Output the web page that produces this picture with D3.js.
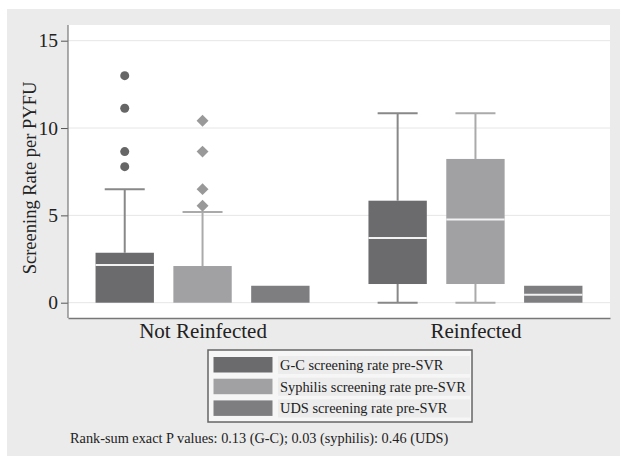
<!DOCTYPE html>
<html>
<head>
<meta charset="utf-8">
<script src="https://cdn.jsdelivr.net/npm/d3@7"></script>
<style>
  body { margin: 0; background: #fff; }
  svg text { font-family: 'Liberation Serif', 'DejaVu Serif', serif; fill: #222; }
</style>
</head>
<body>
<div id="chart"></div>
<script>
// groups and series
const groups = ["Not Reinfected", "Reinfected"];
const series = ["G-C", "Syphilis", "UDS"];
const seriesLabels = ["G-C screening rate pre-SVR", "Syphilis screening rate pre-SVR", "UDS screening rate pre-SVR"];
const seriesColors = ["#6b6b6e", "#a1a1a4", "#7e7e81"];
const yTicks = [0, 5, 10, 15];

// box stats per series, one entry per group: [whiskerLow, q1, median, q3, whiskerHigh]
const gcStats = [[0, 0, 2.16, 2.86, 6.5], [0, 1.07, 3.7, 5.84, 10.84]];
const syphStats = [[0, 0, 2.1, 2.1, 5.19], [0, 1.07, 4.77, 8.23, 10.84]];
const udsStats = [[0, 0, 0.97, 0.97, 0.97], [0, 0, 0.46, 0.97, 0.97]];

// outliers (Not Reinfected only)
const gcOutliers = [13.0, 11.13, 8.65, 7.79];
const syphOutliers = [10.42, 8.65, 6.5, 5.55];

const footnote = "Rank-sum exact P values: 0.13 (G-C); 0.03 (syphilis): 0.46 (UDS)";

const W = 620, H = 456;
const svg = d3.select("#chart").append("svg").attr("width", W).attr("height", H);

// outer gray panel
svg.append("rect").attr("x", 7).attr("y", 9).attr("width", W - 7).attr("height", H - 9).attr("fill", "#ebebeb");

const plot = { left: 68, right: 610, top: 25, bottom: 318 };
svg.append("rect").attr("x", plot.left).attr("y", plot.top)
  .attr("width", plot.right - plot.left).attr("height", plot.bottom - plot.top).attr("fill", "#fff");

const y = d3.scaleLinear().domain([0, 15]).range([302.7, 40.7]);
const xGroup = d3.scalePoint().domain(groups).range([plot.left, plot.right]).padding(0.493);
const xInner = d3.scaleBand().domain(series).range([-107, 107]).paddingInner(0.25);

// grid
svg.append("g").selectAll("line").data(yTicks).join("line")
  .attr("x1", plot.left).attr("x2", plot.right)
  .attr("y1", d => y(d)).attr("y2", d => y(d))
  .attr("stroke", "#e6e6e6").attr("stroke-width", 1);

// y axis
const yAxis = svg.append("g").attr("transform", `translate(${plot.left},0)`)
  .call(d3.axisLeft(y).tickValues(yTicks).tickSize(7).tickPadding(3));
yAxis.select(".domain").remove();
yAxis.selectAll(".tick line").attr("stroke", "#555");
yAxis.selectAll(".tick text").attr("font-size", 19.5).attr("fill", "#222");
svg.append("line").attr("x1", plot.left).attr("x2", plot.left).attr("y1", plot.top).attr("y2", plot.bottom)
  .attr("stroke", "#777").attr("stroke-width", 1.2);

// x axis
const xAxis = svg.append("g").attr("transform", `translate(0,${plot.bottom})`)
  .call(d3.axisBottom(xGroup).tickSize(0).tickPadding(5));
xAxis.select(".domain").attr("stroke", "#777").attr("stroke-width", 1.5);
xAxis.selectAll(".tick text").attr("font-size", 21).attr("fill", "#222");

svg.append("text").attr("transform", "translate(35.5,178) rotate(-90)")
  .attr("text-anchor", "middle").attr("font-size", 18.5).text("Screening Rate per PYFU");

// boxes
const allStats = [gcStats, syphStats, udsStats];
const boxes = [];
series.forEach((s, si) => groups.forEach((g, gi) => {
  const st = allStats[si][gi];
  boxes.push({ s, si, g, lo: st[0], q1: st[1], med: st[2], q3: st[3], hi: st[4] });
}));

const bw = xInner.bandwidth();
const bx = d => xGroup(d.g) + xInner(d.s);
const cx = d => bx(d) + bw / 2;
const wcol = d => d.si === 1 ? "#aaa" : "#888";

const bg = svg.append("g").selectAll("g").data(boxes).join("g");
// whiskers
bg.filter(d => d.hi > d.q3).append("line")
  .attr("x1", cx).attr("x2", cx).attr("y1", d => y(d.q3)).attr("y2", d => y(d.hi))
  .attr("stroke", wcol).attr("stroke-width", 2);
bg.filter(d => d.hi > d.q3).append("line")
  .attr("x1", d => cx(d) - 20).attr("x2", d => cx(d) + 20).attr("y1", d => y(d.hi)).attr("y2", d => y(d.hi))
  .attr("stroke", wcol).attr("stroke-width", 2);
bg.filter(d => d.lo < d.q1).append("line")
  .attr("x1", cx).attr("x2", cx).attr("y1", d => y(d.q1)).attr("y2", d => y(d.lo))
  .attr("stroke", wcol).attr("stroke-width", 2);
bg.filter(d => d.lo < d.q1).append("line")
  .attr("x1", d => cx(d) - 20).attr("x2", d => cx(d) + 20).attr("y1", d => y(d.lo)).attr("y2", d => y(d.lo))
  .attr("stroke", wcol).attr("stroke-width", 2);
// box body
bg.append("rect").attr("x", bx).attr("width", bw)
  .attr("y", d => y(d.q3)).attr("height", d => Math.max(1, y(d.q1) - y(d.q3)))
  .attr("fill", d => seriesColors[d.si]);
// median
bg.filter(d => d.med > d.q1 && d.med < d.q3).append("line")
  .attr("x1", bx).attr("x2", d => bx(d) + bw).attr("y1", d => y(d.med)).attr("y2", d => y(d.med))
  .attr("stroke", "#f2f2f2").attr("stroke-width", 2);

// outliers
const gcX = xGroup(groups[0]) + xInner(series[0]) + bw / 2;
const syX = xGroup(groups[0]) + xInner(series[1]) + bw / 2;
svg.append("g").selectAll("circle").data(gcOutliers).join("circle")
  .attr("cx", gcX).attr("cy", d => y(d)).attr("r", 4.5).attr("fill", "#666");
svg.append("g").selectAll("path").data(syphOutliers).join("path")
  .attr("d", d3.symbol(d3.symbolDiamond2, 90))
  .attr("transform", d => `translate(${syX},${y(d)})`)
  .attr("fill", "#999");

// legend
const lg = svg.append("g").attr("transform", "translate(208,350)");
lg.append("rect").attr("width", 264).attr("height", 72).attr("fill", "#f6f6f6")
  .attr("stroke", "#666").attr("stroke-width", 1.5);
const items = lg.selectAll("g").data(seriesLabels).join("g")
  .attr("transform", (d, i) => `translate(0,${7 + i * 21.7})`);
items.append("rect").attr("x", 5.5).attr("width", 59).attr("height", 15.5)
  .attr("fill", (d, i) => seriesColors[i]);
items.append("rect").attr("x", 70).attr("y", -1).attr("width", 192).attr("height", 18).attr("fill", "#ececec");
items.append("text").attr("x", 72).attr("y", 13).attr("font-size", 14.4).text(d => d);

svg.append("text").attr("x", 70).attr("y", 443).attr("font-size", 14.3).text(footnote);
</script>
</body>
</html>
